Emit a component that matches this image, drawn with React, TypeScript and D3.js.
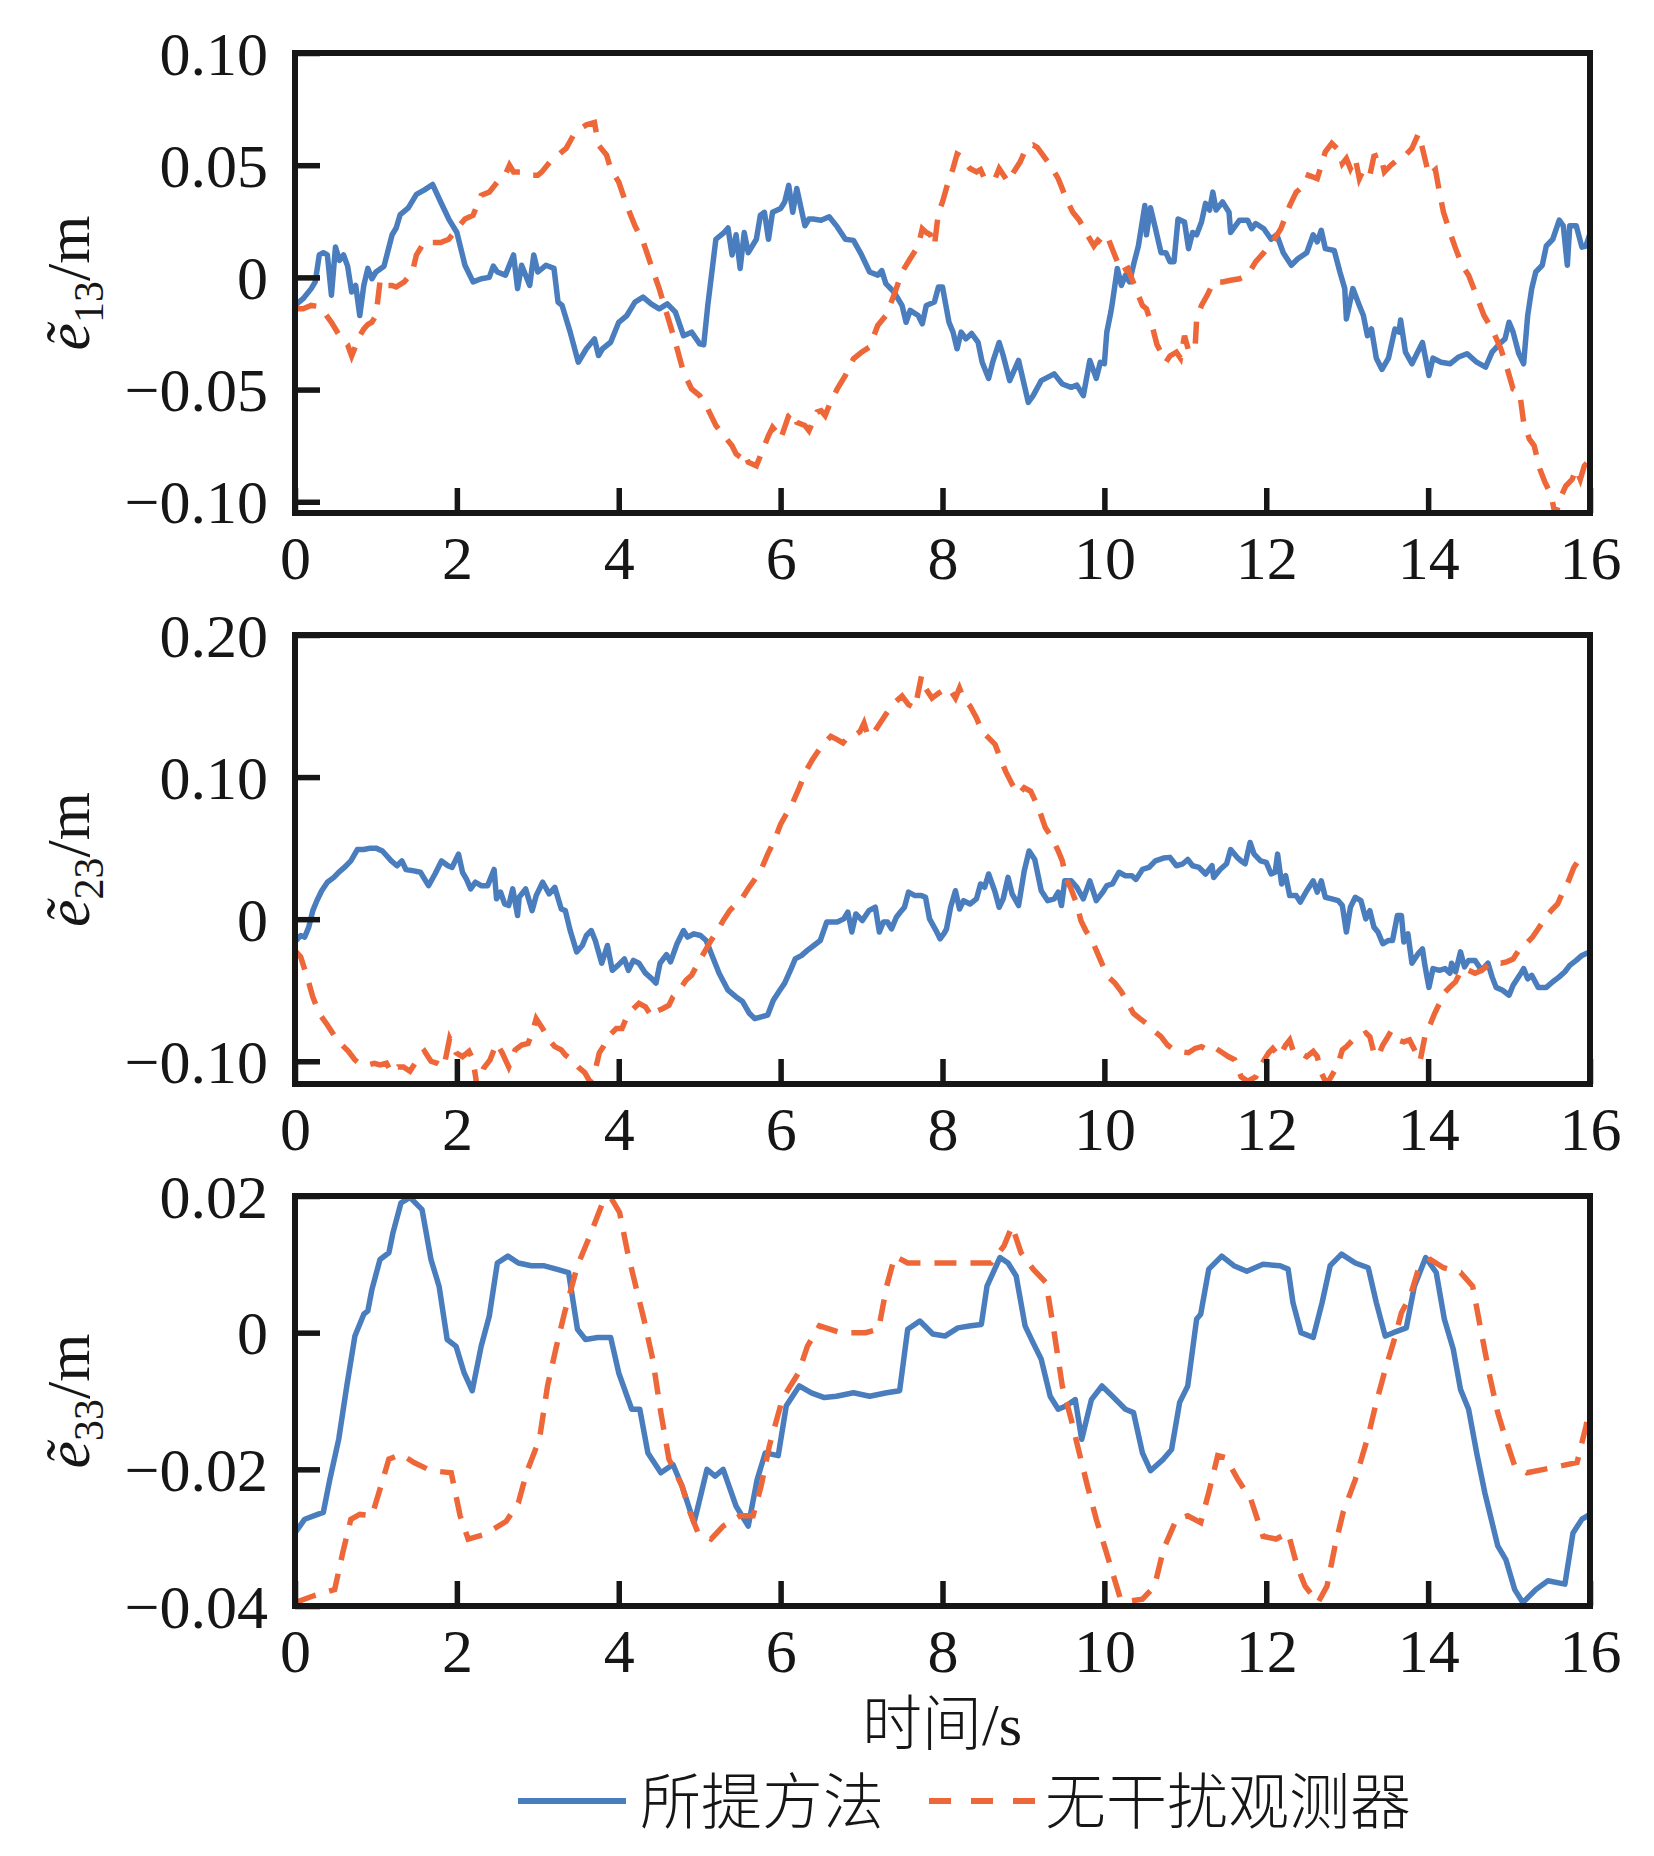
import React, { useRef, useEffect } from "react";
import * as d3 from "d3";

type Pt = [number, number];

// time axis (s)
const timeTicks = [0, 2, 4, 6, 8, 10, 12, 14, 16];
const timeTickLabels = ["0", "2", "4", "6", "8", "10", "12", "14", "16"];

const e13Ticks = [-0.1, -0.05, 0, 0.05, 0.1];
const e13TickLabels = ["\u22120.10", "\u22120.05", "0", "0.05", "0.10"];
const e23Ticks = [-0.1, 0, 0.1, 0.2];
const e23TickLabels = ["\u22120.10", "0", "0.10", "0.20"];
const e33Ticks = [-0.04, -0.02, 0, 0.02];
const e33TickLabels = ["\u22120.04", "\u22120.02", "0", "0.02"];

const seriesNames = ["所提方法", "无干扰观测器"];
const timeTitle = "时间/s";

// e13 (m) vs t (s)
const e13Proposed: Pt[] = [
  [0, -0.0125], [0.1, -0.0095], [0.2, -0.005], [0.25, -0.002], [0.3, 0.01], [0.35, 0.011], [0.4, 0.01],
  [0.45, -0.008], [0.5, 0.0135], [0.55, 0.0076], [0.6, 0.01], [0.65, 0.005], [0.7, -0.0065], [0.75, -0.0036],
  [0.8, -0.017], [0.85, -0.0036], [0.9, 0.004], [0.95, -0.0006], [1.0, 0.0024], [1.1, 0.005], [1.2, 0.019],
  [1.25, 0.022], [1.3, 0.028], [1.4, 0.031], [1.5, 0.037], [1.6, 0.039], [1.7, 0.0414], [1.8, 0.0336],
  [1.9, 0.026], [2.0, 0.02], [2.1, 0.0054], [2.2, -0.002], [2.3, -0.0006], [2.4, 0], [2.45, 0.005],
  [2.5, 0.0024], [2.6, 0.001], [2.7, 0.01], [2.75, -0.005], [2.8, 0.0054], [2.9, -0.0036], [2.95, 0.01],
  [3.0, 0.0024], [3.1, 0.0054], [3.2, 0.004], [3.25, -0.011], [3.3, -0.0125], [3.4, -0.0244], [3.5, -0.0378],
  [3.6, -0.0318], [3.7, -0.0274], [3.75, -0.0348], [3.8, -0.0318], [3.9, -0.0289], [4.0, -0.02], [4.1, -0.017],
  [4.2, -0.011], [4.3, -0.0088], [4.4, -0.0118], [4.5, -0.014], [4.6, -0.0118], [4.7, -0.0155], [4.8, -0.026],
  [4.9, -0.0244], [5.0, -0.0296], [5.05, -0.03], [5.1, -0.0125], [5.2, 0.017], [5.3, 0.02], [5.35, 0.022],
  [5.4, 0.01], [5.45, 0.019], [5.5, 0.004], [5.55, 0.02], [5.6, 0.011], [5.7, 0.017], [5.75, 0.0277],
  [5.8, 0.029], [5.85, 0.017], [5.9, 0.029], [6.0, 0.0307], [6.05, 0.0336], [6.1, 0.041], [6.15, 0.029],
  [6.2, 0.0396], [6.3, 0.023], [6.35, 0.026], [6.4, 0.026], [6.5, 0.0255], [6.6, 0.027], [6.7, 0.0225],
  [6.8, 0.017], [6.9, 0.0165], [7.0, 0.01], [7.1, 0.0024], [7.2, 0.001], [7.25, 0.003], [7.3, -0.0028],
  [7.4, -0.0065], [7.5, -0.0125], [7.55, -0.02], [7.6, -0.0147], [7.7, -0.017], [7.75, -0.0207], [7.8, -0.0125],
  [7.9, -0.011], [7.95, -0.0043], [8.0, -0.0043], [8.08, -0.02], [8.13, -0.0244], [8.18, -0.0318], [8.23, -0.0244],
  [8.29, -0.0274], [8.36, -0.025], [8.44, -0.029], [8.49, -0.0378], [8.57, -0.045], [8.62, -0.0378], [8.7, -0.029],
  [8.75, -0.0348], [8.83, -0.046], [8.94, -0.037], [9.06, -0.0557], [9.12, -0.0527], [9.22, -0.046], [9.38, -0.043],
  [9.48, -0.0475], [9.59, -0.049], [9.66, -0.048], [9.74, -0.0527], [9.82, -0.037], [9.9, -0.045], [9.95, -0.0378],
  [10.0, -0.0385], [10.03, -0.0244], [10.08, -0.0155], [10.1, -0.011], [10.16, 0.004], [10.21, -0.0036],
  [10.26, 0.001], [10.31, -0.002], [10.37, 0.007], [10.42, 0.014], [10.5, 0.032], [10.52, 0.019], [10.57, 0.031],
  [10.63, 0.022], [10.7, 0.011], [10.76, 0.011], [10.81, 0.007], [10.86, 0.007], [10.91, 0.026], [10.99, 0.0247],
  [11.04, 0.0128], [11.09, 0.02], [11.14, 0.019], [11.2, 0.0247], [11.25, 0.033], [11.3, 0.03], [11.34, 0.038],
  [11.38, 0.03], [11.46, 0.0336], [11.54, 0.029], [11.56, 0.02], [11.67, 0.0255], [11.77, 0.0255], [11.82, 0.0217],
  [11.87, 0.024], [11.97, 0.0217], [12.06, 0.017], [12.13, 0.019], [12.21, 0.011], [12.31, 0.0054], [12.39, 0.0083],
  [12.5, 0.011], [12.58, 0.019], [12.63, 0.0158], [12.68, 0.021], [12.73, 0.0128], [12.84, 0.012], [12.91, 0.0024],
  [12.97, -0.005], [12.99, -0.0185], [13.07, -0.005], [13.15, -0.0125], [13.2, -0.017], [13.25, -0.026],
  [13.3, -0.023], [13.36, -0.036], [13.43, -0.041], [13.51, -0.036], [13.59, -0.023], [13.64, -0.0244],
  [13.66, -0.019], [13.72, -0.0333], [13.8, -0.0385], [13.85, -0.0348], [13.93, -0.029], [14.01, -0.0437],
  [14.06, -0.036], [14.16, -0.0378], [14.27, -0.0385], [14.37, -0.0356], [14.48, -0.034], [14.6, -0.0378],
  [14.71, -0.04], [14.79, -0.0333], [14.9, -0.029], [14.95, -0.0274], [15.0, -0.02], [15.05, -0.0244],
  [15.12, -0.034], [15.18, -0.0385], [15.23, -0.017], [15.28, -0.005], [15.33, 0.0024], [15.41, 0.0054],
  [15.46, 0.014], [15.54, 0.017], [15.62, 0.0255], [15.67, 0.023], [15.72, 0.0054], [15.75, 0.023],
  [15.83, 0.023], [15.9, 0.0135], [15.95, 0.014], [16, 0.0195],
];

const e13Observer: Pt[] = [
  [0, -0.014], [0.1, -0.014], [0.2, -0.0125], [0.3, -0.013], [0.35, -0.015], [0.45, -0.02], [0.5, -0.023],
  [0.55, -0.026], [0.65, -0.03], [0.7, -0.035], [0.8, -0.026], [0.85, -0.023], [0.9, -0.021], [0.95, -0.02],
  [1.0, -0.017], [1.05, -0.002], [1.1, -0.0006], [1.15, -0.0036], [1.2, -0.0036], [1.25, -0.0043], [1.35, -0.002],
  [1.45, 0.0024], [1.5, 0.01], [1.6, 0.016], [1.7, 0.0155], [1.8, 0.0155], [1.9, 0.017], [2.0, 0.0217],
  [2.1, 0.026], [2.2, 0.0277], [2.3, 0.0366], [2.4, 0.038], [2.5, 0.0425], [2.6, 0.046], [2.65, 0.05],
  [2.7, 0.047], [2.8, 0.047], [2.9, 0.0455], [3.0, 0.0455], [3.05, 0.047], [3.15, 0.0515], [3.3, 0.056],
  [3.35, 0.0575], [3.45, 0.064], [3.5, 0.0656], [3.6, 0.068], [3.7, 0.069], [3.75, 0.059], [3.8, 0.0567],
  [3.85, 0.0545], [3.9, 0.0485], [4.0, 0.0425], [4.1, 0.032], [4.2, 0.023], [4.3, 0.016], [4.4, 0.0054],
  [4.5, -0.005], [4.6, -0.017], [4.7, -0.029], [4.8, -0.0423], [4.9, -0.0497], [5.0, -0.0527], [5.1, -0.0586],
  [5.2, -0.066], [5.3, -0.0705], [5.4, -0.075], [5.45, -0.0787], [5.5, -0.08], [5.55, -0.078], [5.6, -0.0824],
  [5.7, -0.084], [5.75, -0.0795], [5.8, -0.075], [5.85, -0.0705], [5.9, -0.0668], [5.95, -0.069], [6.0, -0.072],
  [6.1, -0.0616], [6.15, -0.06], [6.2, -0.0646], [6.3, -0.066], [6.35, -0.0683], [6.45, -0.06], [6.5, -0.0594],
  [6.55, -0.0616], [6.6, -0.057], [6.7, -0.0497], [6.8, -0.0437], [6.9, -0.0363], [7.0, -0.0333], [7.1, -0.031],
  [7.2, -0.0214], [7.3, -0.017], [7.4, -0.008], [7.5, 0.0024], [7.6, 0.0083], [7.7, 0.014], [7.75, 0.0217],
  [7.8, 0.02], [7.85, 0.019], [7.9, 0.014], [7.95, 0.029], [8.0, 0.0336], [8.05, 0.04], [8.13, 0.0485],
  [8.18, 0.055], [8.23, 0.054], [8.29, 0.051], [8.34, 0.0485], [8.42, 0.047], [8.47, 0.048], [8.52, 0.044],
  [8.65, 0.044], [8.7, 0.0485], [8.81, 0.0425], [8.88, 0.047], [8.96, 0.0515], [9.04, 0.058], [9.12, 0.059],
  [9.17, 0.058], [9.27, 0.053], [9.35, 0.049], [9.43, 0.044], [9.53, 0.035], [9.61, 0.029], [9.69, 0.0255],
  [9.79, 0.019], [9.87, 0.014], [9.92, 0.0165], [10.0, 0.014], [10.05, 0.017], [10.16, 0.007], [10.21, 0.0024],
  [10.29, 0.004], [10.34, -0.0006], [10.42, -0.008], [10.47, -0.0125], [10.52, -0.014], [10.6, -0.023],
  [10.65, -0.03], [10.76, -0.0378], [10.81, -0.035], [10.89, -0.0333], [10.94, -0.036], [10.99, -0.026],
  [11.04, -0.0326], [11.12, -0.032], [11.14, -0.0185], [11.2, -0.0125], [11.27, -0.008], [11.35, -0.002],
  [11.46, -0.002], [11.56, -0.0013], [11.67, -0.0006], [11.77, 0.001], [11.87, 0.007], [11.97, 0.011],
  [12.08, 0.016], [12.18, 0.0217], [12.29, 0.032], [12.37, 0.038], [12.47, 0.041], [12.52, 0.0455],
  [12.63, 0.044], [12.68, 0.05], [12.73, 0.056], [12.81, 0.0597], [12.89, 0.057], [12.94, 0.0507], [12.99, 0.053],
  [13.04, 0.0485], [13.1, 0.053], [13.15, 0.044], [13.2, 0.048], [13.28, 0.0455], [13.33, 0.054], [13.41, 0.055],
  [13.46, 0.047], [13.54, 0.05], [13.64, 0.053], [13.72, 0.0545], [13.8, 0.0575], [13.88, 0.064], [13.93, 0.0575],
  [14.01, 0.0455], [14.09, 0.048], [14.14, 0.038], [14.19, 0.029], [14.27, 0.02], [14.34, 0.0128], [14.42, 0.0054],
  [14.5, 0.001], [14.58, -0.0065], [14.69, -0.017], [14.74, -0.02], [14.79, -0.023], [14.9, -0.032],
  [14.98, -0.041], [15.05, -0.0497], [15.13, -0.051], [15.18, -0.0646], [15.25, -0.072], [15.31, -0.075],
  [15.38, -0.0854], [15.44, -0.091], [15.52, -0.097], [15.57, -0.106], [15.65, -0.097], [15.7, -0.093],
  [15.78, -0.09], [15.83, -0.0854], [15.88, -0.09], [15.93, -0.084], [16, -0.081],
];

// e23 (m) vs t (s)
const e23Proposed: Pt[] = [
  [0, -0.016], [0.07, -0.0115], [0.12, -0.0126], [0.17, -0.0056], [0.22, 0.006], [0.27, 0.013], [0.33, 0.02],
  [0.4, 0.026], [0.48, 0.0294], [0.54, 0.033], [0.61, 0.0364], [0.69, 0.041], [0.77, 0.049], [0.85, 0.049],
  [0.93, 0.05], [1.0, 0.05], [1.08, 0.048], [1.19, 0.041], [1.26, 0.0376], [1.32, 0.041], [1.37, 0.035],
  [1.47, 0.034], [1.55, 0.033], [1.65, 0.0236], [1.73, 0.0318], [1.81, 0.041], [1.89, 0.0376], [1.94, 0.0364],
  [2.02, 0.0458], [2.07, 0.033], [2.12, 0.028], [2.17, 0.0213], [2.23, 0.026], [2.3, 0.0236], [2.38, 0.0236],
  [2.46, 0.035], [2.49, 0.0143], [2.54, 0.019], [2.59, 0.0107], [2.64, 0.0096], [2.69, 0.0213], [2.75, 0.0026],
  [2.77, 0.0154], [2.85, 0.0213], [2.93, 0.006], [2.98, 0.0166], [3.06, 0.026], [3.14, 0.0178], [3.21, 0.0224],
  [3.29, 0.0072], [3.34, 0.006], [3.4, -0.008], [3.48, -0.023], [3.55, -0.0185], [3.6, -0.0115], [3.66, -0.008],
  [3.71, -0.015], [3.79, -0.031], [3.86, -0.0185], [3.92, -0.036], [3.99, -0.0325], [4.07, -0.028], [4.12, -0.036],
  [4.18, -0.029], [4.25, -0.031], [4.33, -0.038], [4.41, -0.042], [4.46, -0.045], [4.51, -0.031], [4.59, -0.025],
  [4.64, -0.03], [4.72, -0.0173], [4.8, -0.008], [4.85, -0.0126], [4.93, -0.0103], [5.01, -0.0115], [5.08, -0.015],
  [5.16, -0.0266], [5.24, -0.038], [5.35, -0.05], [5.45, -0.0547], [5.53, -0.058], [5.61, -0.066], [5.68, -0.07],
  [5.76, -0.0687], [5.84, -0.0675], [5.91, -0.057], [5.99, -0.05], [6.05, -0.045], [6.13, -0.0348], [6.18, -0.028],
  [6.26, -0.0255], [6.33, -0.022], [6.41, -0.0185], [6.49, -0.015], [6.57, -0.002], [6.62, -0.002], [6.7, -0.002],
  [6.78, 0.0002], [6.83, 0.005], [6.88, -0.009], [6.93, 0.0037], [7.01, -0.001], [7.09, 0.006], [7.17, 0.0084],
  [7.22, -0.009], [7.27, -0.002], [7.32, -0.002], [7.37, -0.0068], [7.43, 0.0014], [7.48, 0.005], [7.53, 0.0084],
  [7.58, 0.019], [7.66, 0.0166], [7.74, 0.0166], [7.79, 0.0154], [7.84, 0.0002], [7.92, -0.008], [7.97, -0.0138],
  [8.02, -0.01], [8.05, -0.0068], [8.1, 0.0084], [8.16, 0.02], [8.21, 0.0072], [8.26, 0.013], [8.34, 0.0107],
  [8.42, 0.0143], [8.47, 0.0248], [8.52, 0.0224], [8.57, 0.0318], [8.65, 0.019], [8.7, 0.0084], [8.75, 0.0143],
  [8.81, 0.0294], [8.86, 0.0178], [8.94, 0.0096], [9.01, 0.034], [9.07, 0.048], [9.14, 0.042], [9.22, 0.02],
  [9.3, 0.013], [9.38, 0.0143], [9.43, 0.019], [9.47, 0.0096], [9.51, 0.027], [9.59, 0.027], [9.66, 0.0224],
  [9.74, 0.0143], [9.82, 0.027], [9.9, 0.013], [9.98, 0.019], [10.03, 0.0236], [10.1, 0.0248], [10.18, 0.033],
  [10.26, 0.0306], [10.34, 0.0306], [10.39, 0.028], [10.47, 0.035], [10.55, 0.0364], [10.63, 0.041], [10.73, 0.043],
  [10.81, 0.0435], [10.89, 0.0376], [10.97, 0.039], [11.03, 0.042], [11.09, 0.0376], [11.17, 0.0364], [11.25, 0.0318],
  [11.33, 0.0376], [11.35, 0.0294], [11.43, 0.035], [11.51, 0.039], [11.56, 0.049], [11.64, 0.0435], [11.69, 0.041],
  [11.74, 0.039], [11.8, 0.054], [11.85, 0.0458], [11.93, 0.041], [12.0, 0.04], [12.06, 0.0318], [12.11, 0.033],
  [12.14, 0.0458], [12.19, 0.0248], [12.24, 0.0306], [12.29, 0.0166], [12.37, 0.0166], [12.42, 0.012], [12.5, 0.02],
  [12.58, 0.027], [12.63, 0.019], [12.68, 0.027], [12.73, 0.0154], [12.81, 0.0143], [12.89, 0.013], [12.94, 0.0096],
  [12.99, -0.009], [13.04, 0.0084], [13.1, 0.0154], [13.17, 0.013], [13.23, 0.0002], [13.28, 0.006], [13.33, -0.0056],
  [13.38, -0.009], [13.44, -0.0173], [13.51, -0.015], [13.56, -0.015], [13.62, 0.0026], [13.67, 0.0026], [13.7, -0.016],
  [13.75, -0.0103], [13.8, -0.031], [13.88, -0.024], [13.93, -0.021], [13.96, -0.0325], [14.01, -0.048], [14.06, -0.0348],
  [14.14, -0.036], [14.21, -0.0348], [14.27, -0.038], [14.29, -0.031], [14.34, -0.037], [14.4, -0.023], [14.45, -0.0336],
  [14.5, -0.029], [14.58, -0.029], [14.66, -0.036], [14.74, -0.031], [14.79, -0.0406], [14.84, -0.048], [14.92, -0.05],
  [15.0, -0.0535], [15.05, -0.0465], [15.13, -0.0395], [15.18, -0.0348], [15.23, -0.042], [15.28, -0.0395],
  [15.36, -0.048], [15.46, -0.048], [15.54, -0.044], [15.62, -0.0406], [15.69, -0.037], [15.75, -0.0325],
  [15.83, -0.029], [15.9, -0.0255], [16, -0.023],
];

const e23Observer: Pt[] = [
  [0, -0.022], [0.07, -0.0266], [0.15, -0.0407], [0.22, -0.0547], [0.3, -0.0664], [0.4, -0.0745], [0.48, -0.0815],
  [0.56, -0.0874], [0.66, -0.093], [0.74, -0.099], [0.82, -0.1026], [0.9, -0.1026], [0.98, -0.1014], [1.05, -0.1026],
  [1.13, -0.1014], [1.19, -0.108], [1.27, -0.104], [1.34, -0.104], [1.42, -0.107], [1.47, -0.1026], [1.55, -0.0956],
  [1.6, -0.093], [1.68, -0.1], [1.76, -0.1014], [1.84, -0.104], [1.91, -0.084], [1.99, -0.094], [2.07, -0.0967],
  [2.15, -0.093], [2.2, -0.099], [2.25, -0.118], [2.33, -0.105], [2.41, -0.099], [2.49, -0.0874], [2.56, -0.094],
  [2.64, -0.104], [2.72, -0.092], [2.8, -0.0886], [2.88, -0.0874], [2.93, -0.08], [2.98, -0.07], [3.06, -0.077],
  [3.14, -0.085], [3.21, -0.0897], [3.29, -0.092], [3.34, -0.0956], [3.42, -0.099], [3.5, -0.104], [3.58, -0.108],
  [3.64, -0.114], [3.69, -0.111], [3.76, -0.094], [3.81, -0.0897], [3.89, -0.0815], [3.97, -0.077], [4.04, -0.077],
  [4.1, -0.0687], [4.18, -0.063], [4.25, -0.0593], [4.33, -0.0617], [4.41, -0.0687], [4.46, -0.065], [4.54, -0.063],
  [4.62, -0.0605], [4.67, -0.0547], [4.75, -0.05], [4.83, -0.043], [4.9, -0.0395], [4.98, -0.031], [5.06, -0.023],
  [5.14, -0.015], [5.22, -0.008], [5.29, -0.001], [5.37, 0.006], [5.45, 0.0107], [5.53, 0.0154], [5.61, 0.0224],
  [5.68, 0.028], [5.76, 0.035], [5.84, 0.0458], [5.92, 0.055], [6.0, 0.0668], [6.07, 0.074], [6.15, 0.082],
  [6.23, 0.0925], [6.31, 0.104], [6.39, 0.112], [6.46, 0.118], [6.54, 0.124], [6.62, 0.1287], [6.7, 0.1264],
  [6.77, 0.124], [6.82, 0.1276], [6.9, 0.1287], [6.98, 0.132], [7.03, 0.138], [7.08, 0.1287], [7.16, 0.132],
  [7.24, 0.139], [7.32, 0.146], [7.42, 0.153], [7.5, 0.157], [7.58, 0.151], [7.66, 0.1486], [7.74, 0.171],
  [7.79, 0.1626], [7.87, 0.1556], [7.95, 0.159], [8.02, 0.1614], [8.08, 0.1626], [8.16, 0.1556], [8.21, 0.1626],
  [8.26, 0.1556], [8.34, 0.15], [8.42, 0.1416], [8.49, 0.132], [8.57, 0.1276], [8.65, 0.123], [8.73, 0.111],
  [8.78, 0.104], [8.86, 0.095], [8.94, 0.088], [9.01, 0.0925], [9.09, 0.09], [9.14, 0.084], [9.2, 0.076],
  [9.27, 0.0645], [9.35, 0.0575], [9.43, 0.048], [9.48, 0.041], [9.53, 0.028], [9.58, 0.0224], [9.66, 0.0107],
  [9.71, -0.001], [9.77, -0.008], [9.85, -0.015], [9.9, -0.022], [9.98, -0.0325], [10.05, -0.0407], [10.13, -0.045],
  [10.21, -0.051], [10.29, -0.0593], [10.36, -0.0664], [10.44, -0.07], [10.52, -0.0734], [10.6, -0.078],
  [10.7, -0.0827], [10.78, -0.0886], [10.86, -0.092], [10.94, -0.0932], [11.04, -0.094], [11.12, -0.091],
  [11.2, -0.0897], [11.3, -0.093], [11.38, -0.091], [11.46, -0.094], [11.53, -0.0967], [11.61, -0.099],
  [11.69, -0.111], [11.77, -0.114], [11.87, -0.111], [11.95, -0.1014], [12.03, -0.094], [12.08, -0.091],
  [12.16, -0.0967], [12.24, -0.0886], [12.29, -0.085], [12.34, -0.094], [12.42, -0.094], [12.5, -0.0967],
  [12.58, -0.093], [12.63, -0.0967], [12.68, -0.108], [12.73, -0.114], [12.78, -0.113], [12.84, -0.107],
  [12.89, -0.1014], [12.94, -0.092], [12.99, -0.0897], [13.07, -0.085], [13.15, -0.0827], [13.23, -0.08],
  [13.28, -0.0827], [13.33, -0.094], [13.38, -0.0967], [13.44, -0.0886], [13.49, -0.084], [13.54, -0.079],
  [13.62, -0.085], [13.7, -0.0864], [13.77, -0.085], [13.85, -0.094], [13.9, -0.1], [13.96, -0.0827],
  [14.03, -0.0734], [14.08, -0.0664], [14.14, -0.0593], [14.19, -0.0523], [14.27, -0.0477], [14.34, -0.044],
  [14.42, -0.0348], [14.5, -0.036], [14.58, -0.038], [14.66, -0.036], [14.74, -0.0325], [14.82, -0.03],
  [14.9, -0.031], [14.97, -0.03], [15.05, -0.028], [15.13, -0.021], [15.21, -0.0173], [15.29, -0.0126],
  [15.36, -0.0068], [15.44, 0.0002], [15.52, 0.006], [15.6, 0.0107], [15.67, 0.02], [15.72, 0.0248],
  [15.8, 0.0364], [15.88, 0.0435], [15.95, 0.0458], [16, 0.0458],
];

// e33 (m) vs t (s)
const e33Proposed: Pt[] = [
  [0, -0.0293], [0.12, -0.0273], [0.28, -0.0266], [0.35, -0.0263], [0.43, -0.0215], [0.54, -0.0156], [0.64, -0.0078],
  [0.74, -0.0005], [0.85, 0.0027], [0.9, 0.0032], [0.95, 0.0063], [1.05, 0.0107], [1.16, 0.0117], [1.21, 0.0146],
  [1.31, 0.019], [1.42, 0.0198], [1.57, 0.018], [1.68, 0.0107], [1.78, 0.0068], [1.88, -0.001], [1.99, -0.002],
  [2.09, -0.0059], [2.19, -0.0085], [2.3, -0.002], [2.4, 0.0024], [2.5, 0.0102], [2.63, 0.0112], [2.76, 0.0102],
  [2.92, 0.0098], [3.07, 0.0098], [3.23, 0.0093], [3.38, 0.0088], [3.49, 0.0005], [3.59, -0.001], [3.74, -0.0007],
  [3.9, -0.0007], [4.0, -0.0059], [4.16, -0.0112], [4.26, -0.0112], [4.36, -0.0176], [4.52, -0.0205], [4.67, -0.0193],
  [4.78, -0.0224], [4.93, -0.0278], [4.98, -0.0254], [5.09, -0.02], [5.19, -0.021], [5.29, -0.02], [5.45, -0.0254],
  [5.6, -0.0283], [5.71, -0.0215], [5.81, -0.0176], [5.97, -0.018], [6.07, -0.0107], [6.23, -0.0078], [6.38, -0.0088],
  [6.54, -0.0095], [6.69, -0.0093], [6.9, -0.0088], [7.1, -0.0093], [7.31, -0.0088], [7.47, -0.0085], [7.57, 0.0005],
  [7.72, 0.0017], [7.88, -0.0002], [8.03, -0.0005], [8.19, 0.0007], [8.35, 0.001], [8.48, 0.0012], [8.55, 0.0068],
  [8.71, 0.011], [8.81, 0.0102], [8.91, 0.0083], [9.02, 0.001], [9.12, -0.0015], [9.22, -0.0039], [9.33, -0.0093],
  [9.43, -0.0112], [9.53, -0.0107], [9.64, -0.0098], [9.72, -0.0156], [9.84, -0.0098], [9.97, -0.0078], [10.1, -0.0093],
  [10.26, -0.0112], [10.36, -0.0117], [10.47, -0.0176], [10.57, -0.0202], [10.73, -0.0185], [10.83, -0.0171],
  [10.93, -0.0102], [11.03, -0.0078], [11.14, 0.002], [11.19, 0.0027], [11.29, 0.0093], [11.45, 0.0112], [11.6, 0.0098],
  [11.76, 0.009], [11.96, 0.01], [12.17, 0.0098], [12.27, 0.0093], [12.33, 0.0044], [12.43, 0], [12.58, -0.0007],
  [12.69, 0.0044], [12.79, 0.0098], [12.93, 0.0115], [13.1, 0.0102], [13.26, 0.0095], [13.36, 0.0044], [13.47, -0.0005],
  [13.57, 0], [13.73, 0.0007], [13.83, 0.0068], [13.97, 0.011], [14.1, 0.0088], [14.2, 0.002], [14.31, -0.0024],
  [14.4, -0.0083], [14.5, -0.0112], [14.6, -0.0176], [14.7, -0.0234], [14.86, -0.0312], [14.96, -0.0332],
  [15.07, -0.0376], [15.17, -0.0395], [15.33, -0.0376], [15.48, -0.0363], [15.69, -0.0368], [15.79, -0.0293],
  [15.9, -0.0273], [16, -0.0266],
];

const e33Observer: Pt[] = [
  [0, -0.0395], [0.23, -0.0385], [0.49, -0.0376], [0.59, -0.0322], [0.69, -0.0273], [0.8, -0.0266], [0.95, -0.0268],
  [1.05, -0.0229], [1.16, -0.0185], [1.31, -0.0178], [1.47, -0.019], [1.68, -0.0202], [1.93, -0.0205], [2.04, -0.0268],
  [2.14, -0.0302], [2.35, -0.0295], [2.61, -0.0276], [2.76, -0.0249], [2.86, -0.0205], [3.02, -0.0156], [3.12, -0.0078],
  [3.23, -0.002], [3.33, 0.0029], [3.49, 0.0098], [3.64, 0.0141], [3.8, 0.019], [3.9, 0.0198], [4.01, 0.0176],
  [4.11, 0.0117], [4.21, 0.0068], [4.31, 0.002], [4.42, -0.0039], [4.52, -0.0117], [4.62, -0.0185], [4.78, -0.0224],
  [4.88, -0.0263], [4.98, -0.0293], [5.14, -0.0302], [5.29, -0.0283], [5.5, -0.0268], [5.66, -0.0268], [5.76, -0.0224],
  [5.86, -0.0166], [6.02, -0.0098], [6.12, -0.0078], [6.22, -0.0059], [6.33, -0.002], [6.48, 0.001], [6.74, 0],
  [7.05, 0], [7.21, 0.0005], [7.31, 0.0068], [7.41, 0.0112], [7.57, 0.0102], [7.78, 0.0102], [8.09, 0.0102],
  [8.4, 0.0102], [8.6, 0.0102], [8.76, 0.0127], [8.86, 0.0156], [8.97, 0.0117], [9.12, 0.0093], [9.28, 0.0073],
  [9.38, 0], [9.48, -0.0078], [9.59, -0.0127], [9.69, -0.0176], [9.79, -0.0224], [9.9, -0.0273], [10.0, -0.0312],
  [10.1, -0.0351], [10.2, -0.039], [10.31, -0.0393], [10.47, -0.039], [10.62, -0.0371], [10.73, -0.0317],
  [10.89, -0.0273], [11.03, -0.0268], [11.19, -0.0278], [11.29, -0.0234], [11.4, -0.018], [11.5, -0.0183],
  [11.65, -0.0215], [11.81, -0.0244], [11.96, -0.0298], [12.12, -0.0302], [12.27, -0.0293], [12.38, -0.0341],
  [12.48, -0.0371], [12.64, -0.0395], [12.75, -0.0371], [12.85, -0.0312], [12.95, -0.0263], [13.1, -0.0215],
  [13.26, -0.0151], [13.36, -0.0102], [13.47, -0.0054], [13.57, -0.0015], [13.67, 0.0029], [13.78, 0.0054],
  [13.88, 0.0093], [14.03, 0.0107], [14.19, 0.0095], [14.4, 0.0088], [14.55, 0.0068], [14.65, 0.0005],
  [14.76, -0.0063], [14.86, -0.0117], [14.96, -0.0156], [15.07, -0.0195], [15.22, -0.0205], [15.43, -0.02],
  [15.64, -0.0195], [15.84, -0.019], [15.95, -0.0137], [16, -0.0107],
];

const WIDTH = 1654;
const HEIGHT = 1856;
const SERIF = "'Liberation Serif', 'Times New Roman', serif";
const CJK = "'Noto Sans CJK SC', sans-serif";
const MIXED = "'Liberation Serif', 'Noto Sans CJK SC', serif";
const BLUE = "#4a7dbd";
const ORANGE = "#ee6738";
const INK = "#161616";

const App: React.FC = () => {
  const chartRef = useRef<SVGSVGElement | null>(null);

  useEffect(() => {
    if (!chartRef.current) return;
    const svg = d3.select(chartRef.current);
    svg.selectAll("*").remove();

    const left = 295;
    const right = 1590;

    const panels = [
      { top: 53, bottom: 513, domain: [-0.105, 0.1], ticks: e13Ticks, labels: e13TickLabels, sub: "13", a: e13Proposed, b: e13Observer },
      { top: 635, bottom: 1084, domain: [-0.116, 0.2], ticks: e23Ticks, labels: e23TickLabels, sub: "23", a: e23Proposed, b: e23Observer },
      { top: 1196, bottom: 1606, domain: [-0.04, 0.02], ticks: e33Ticks, labels: e33TickLabels, sub: "33", a: e33Proposed, b: e33Observer },
    ];

    const x = d3.scaleLinear().domain([0, 16]).range([left, right]);
    const defs = svg.append("defs");

    panels.forEach((p, i) => {
      const y = d3.scaleLinear().domain(p.domain).range([p.bottom, p.top]);
      const clipId = `clip-${i}`;
      defs
        .append("clipPath")
        .attr("id", clipId)
        .append("rect")
        .attr("x", left)
        .attr("y", p.top)
        .attr("width", right - left)
        .attr("height", p.bottom - p.top);

      const line = d3
        .line<Pt>()
        .x((d) => x(d[0]))
        .y((d) => y(d[1]));

      const g = svg.append("g");
      const plot = g.append("g").attr("clip-path", `url(#${clipId})`);

      plot
        .append("path")
        .datum(p.a)
        .attr("fill", "none")
        .attr("stroke", BLUE)
        .attr("stroke-width", 5.5)
        .attr("stroke-linejoin", "round")
        .attr("d", line);

      plot
        .append("path")
        .datum(p.b)
        .attr("fill", "none")
        .attr("stroke", ORANGE)
        .attr("stroke-width", 5.5)
        .attr("stroke-dasharray", "22 14")
        .attr("d", line);

      // y axis, ticks inward
      const yAxis = g
        .append("g")
        .attr("transform", `translate(${left},0)`)
        .call(
          d3
            .axisLeft(y)
            .tickValues(p.ticks)
            .tickSize(-25)
            .tickPadding(27)
            .tickFormat((_d, k) => p.labels[k])
        );
      yAxis.select(".domain").remove();
      yAxis.selectAll("line").attr("stroke", INK).attr("stroke-width", 5.5);
      yAxis
        .selectAll("text")
        .attr("fill", INK)
        .attr("font-family", SERIF)
        .attr("font-size", 62)
        .attr("dy", "0.34em");

      // x axis, ticks inward
      const xAxis = g
        .append("g")
        .attr("transform", `translate(0,${p.bottom})`)
        .call(
          d3
            .axisBottom(x)
            .tickValues(timeTicks)
            .tickSize(-25)
            .tickPadding(22)
            .tickFormat((_d, k) => timeTickLabels[k])
        );
      xAxis.select(".domain").remove();
      xAxis.selectAll("line").attr("stroke", INK).attr("stroke-width", 5.5);
      xAxis
        .selectAll("text")
        .attr("fill", INK)
        .attr("font-family", SERIF)
        .attr("font-size", 62);

      g.append("rect")
        .attr("x", left)
        .attr("y", p.top)
        .attr("width", right - left)
        .attr("height", p.bottom - p.top)
        .attr("fill", "none")
        .attr("stroke", INK)
        .attr("stroke-width", 6);

      // y title  ẽ_xx/m
      const title = g
        .append("text")
        .attr("transform", `translate(89,${(p.top + p.bottom) / 2}) rotate(-90)`)
        .attr("text-anchor", "middle")
        .attr("font-family", SERIF)
        .attr("font-size", 62)
        .attr("fill", INK);
      title.append("tspan").attr("font-style", "italic").text("\u1EBD");
      title.append("tspan").attr("font-size", 42).attr("dy", 14).text(p.sub);
      title.append("tspan").attr("dy", -14).text("/m");
    });

    // x title (one text node; CJK glyphs fall back to Noto Sans CJK)
    svg
      .append("text")
      .attr("x", 942)
      .attr("y", 1745)
      .attr("text-anchor", "middle")
      .attr("fill", INK)
      .attr("font-family", MIXED)
      .attr("font-weight", 300)
      .attr("font-size", 60)
      .text(timeTitle);

    // legend
    const legendY = 1801;
    svg
      .append("line")
      .attr("x1", 518)
      .attr("x2", 626)
      .attr("y1", legendY)
      .attr("y2", legendY)
      .attr("stroke", BLUE)
      .attr("stroke-width", 6);
    svg
      .append("text")
      .attr("x", 640)
      .attr("y", legendY + 23)
      .attr("font-family", CJK)
      .attr("font-weight", 300)
      .attr("font-size", 61)
      .attr("fill", INK)
      .text(seriesNames[0]);
    svg
      .append("line")
      .attr("x1", 929)
      .attr("x2", 1036)
      .attr("y1", legendY)
      .attr("y2", legendY)
      .attr("stroke", ORANGE)
      .attr("stroke-width", 6)
      .attr("stroke-dasharray", "22 20");
    svg
      .append("text")
      .attr("x", 1045)
      .attr("y", legendY + 23)
      .attr("font-family", CJK)
      .attr("font-weight", 300)
      .attr("font-size", 61)
      .attr("fill", INK)
      .text(seriesNames[1]);
  }, []);

  return (
    <svg
      ref={chartRef}
      width={WIDTH}
      height={HEIGHT}
      style={{ position: "absolute", left: 0, top: 0, background: "#fff" }}
    ></svg>
  );
};

export default App;
